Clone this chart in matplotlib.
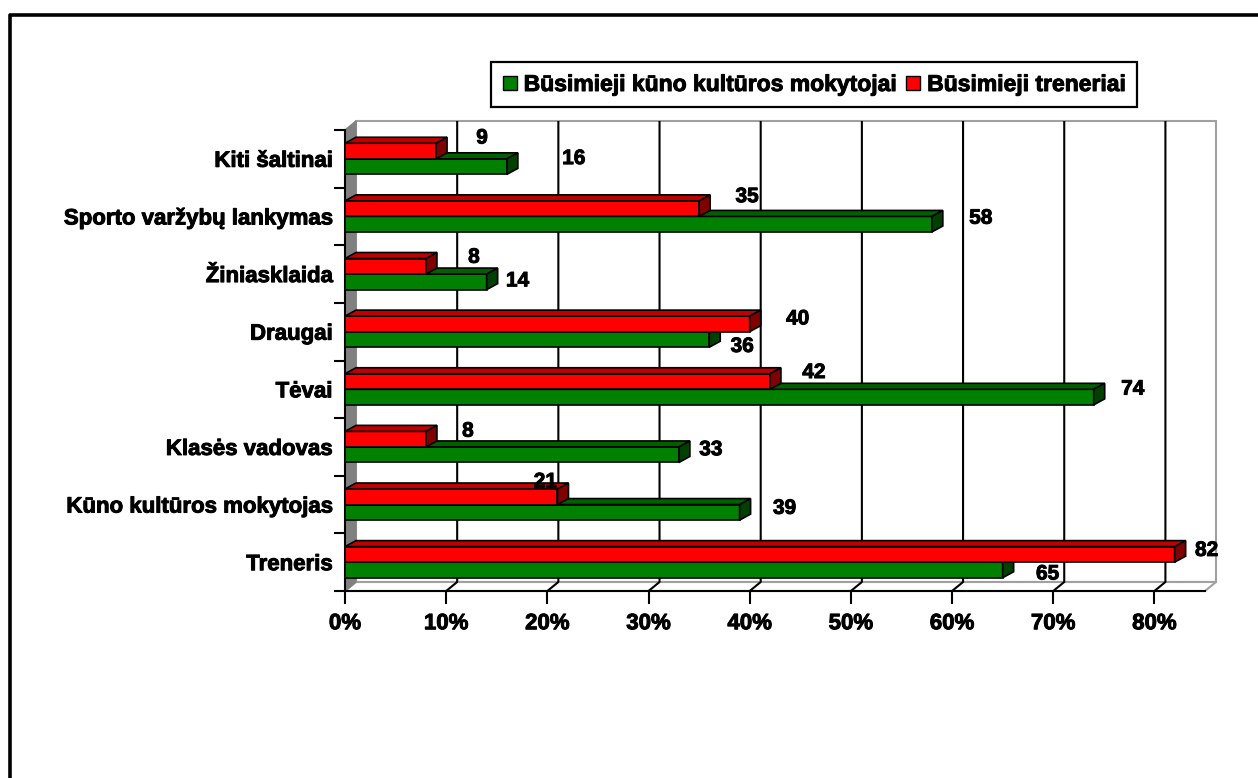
import matplotlib
matplotlib.use("Agg")
import matplotlib.pyplot as plt
from matplotlib.patches import Polygon, Rectangle, Patch
from matplotlib.lines import Line2D
import matplotlib.patheffects as pe

# ---------------- data (bottom to top) ----------------
categories = ["Treneris", "Kūno kultūros mokytojas", "Klasės vadovas", "Tėvai",
              "Draugai", "Žiniasklaida", "Sporto varžybų lankymas", "Kiti šaltinai"]
teachers = [65, 39, 33, 74, 36, 14, 58, 16]      # Būsimieji kūno kultūros mokytojai
coaches = [82, 21, 8, 42, 40, 8, 35, 9]          # Būsimieji treneriai
series_names = ["Būsimieji kūno kultūros mokytojai", "Būsimieji treneriai"]
x_ticks = [0, 10, 20, 30, 40, 50, 60, 70, 80]
x_tick_labels = ["0%", "10%", "20%", "30%", "40%", "50%", "60%", "70%", "80%"]

# label nudges (pixels, right / down) relative to bar end
teach_lab_off = [(45, 4), (45, -4), (32, -5), (39, -8), (33, 7), (31, -1), (49, -6), (67, -8)]
coach_lab_off = [(32, -4), (-12, -15), (42, -8), (44, -9), (48, -5), (48, -9), (48, -12), (46, -13)]

plt.rcParams['font.family'] = ['Liberation Sans', 'DejaVu Sans']
plt.rcParams['font.weight'] = 'bold'
HEAVY = [pe.withStroke(linewidth=0.7, foreground='black')]

W, H = 1258, 778
fig = plt.figure(figsize=(W / 100, H / 100), dpi=100)

n = len(categories)
XMAX = 85
ax = fig.add_axes([345 / W, (H - 591) / H, 860 / W, 461 / H])
ax.set_xlim(0, XMAX)
ax.set_ylim(0, n)
ax.patch.set_visible(False)

px_x = XMAX / 860.0
px_y = n / 461.0
wdx, wdy = 11 * px_x, 9 * px_y     # wall depth
bdx, bdy = 11 * px_x, 6 * px_y     # bar depth

# back wall, floor, left wall
ax.add_patch(Polygon([(wdx, wdy), (XMAX + wdx, wdy), (XMAX + wdx, n + wdy), (wdx, n + wdy)],
                     closed=True, fc='white', ec='#a0a0a0', lw=1.5, clip_on=False, zorder=0.5))
ax.add_patch(Polygon([(0, 0), (XMAX, 0), (XMAX + wdx, wdy), (wdx, wdy)],
                     closed=True, fc='white', ec='#a0a0a0', lw=1.5, clip_on=False, zorder=0.6))
ax.add_patch(Polygon([(0, 0), (wdx, wdy), (wdx, n + wdy), (0, n)],
                     closed=True, fc='#808080', ec='#808080', lw=1, clip_on=False, zorder=0.7))
for v in x_ticks[1:]:
    ax.plot([v + wdx, v + wdx, v], [n + wdy, wdy, 0], color='black', lw=1.5,
            clip_on=False, zorder=0.8, solid_capstyle='butt')


def bar3d(v, y0, h, front, top, side, z):
    ax.add_patch(Rectangle((0, y0), v, h, fc=front, ec='black', lw=1.2, zorder=z, clip_on=False))
    ax.add_patch(Polygon([(0, y0 + h), (v, y0 + h), (v + bdx, y0 + h + bdy), (bdx, y0 + h + bdy)],
                         closed=True, fc=top, ec='black', lw=1.2, zorder=z, clip_on=False))
    ax.add_patch(Polygon([(v, y0), (v + bdx, y0 + bdy), (v + bdx, y0 + h + bdy), (v, y0 + h)],
                         closed=True, fc=side, ec='black', lw=1.2, zorder=z, clip_on=False))


BH = 0.27
for k in range(n - 1, -1, -1):
    z = 3 + (n - k) * 2
    gy = k + 0.23
    ry = k + 0.50
    bar3d(teachers[k], gy, BH, '#008000', '#006000', '#004000', z)
    bar3d(coaches[k], ry, BH, '#FF0000', '#C00000', '#800000', z + 1)
    dx, dy = teach_lab_off[k]
    ax.annotate(str(teachers[k]), (teachers[k], gy + BH / 2), xytext=(dx * 0.72, -dy * 0.72),
                textcoords='offset points', ha='center', va='center', fontsize=15,
                fontweight='bold', zorder=40, annotation_clip=False, path_effects=HEAVY)
    dx, dy = coach_lab_off[k]
    ax.annotate(str(coaches[k]), (coaches[k], ry + BH / 2), xytext=(dx * 0.72, -dy * 0.72),
                textcoords='offset points', ha='center', va='center', fontsize=15,
                fontweight='bold', zorder=40, annotation_clip=False, path_effects=HEAVY)

# axes
for s in ['top', 'right']:
    ax.spines[s].set_visible(False)
for s in ['left', 'bottom']:
    ax.spines[s].set_color('black')
    ax.spines[s].set_linewidth(1.5)
    ax.spines[s].set_zorder(2)
ax.set_xticks(x_ticks)
ax.set_xticklabels(x_tick_labels)
ax.tick_params(axis='x', direction='out', length=9, width=1.5, labelsize=16, pad=7)
ax.set_yticks(range(n + 1))
ax.set_yticklabels([])
ax.tick_params(axis='y', which='major', direction='out', length=8, width=1.5)
ax.set_yticks([k + 0.5 for k in range(n)], minor=True)
ax.set_yticklabels(categories, minor=True)
ax.tick_params(axis='y', which='minor', length=0, labelsize=16, pad=9)
for t in ax.get_xticklabels() + ax.get_yticklabels(minor=True):
    t.set_fontweight('bold')
    t.set_path_effects(HEAVY)

# legend
handles = [Patch(facecolor='#008000', edgecolor='black', lw=1),
           Patch(facecolor='#FF0000', edgecolor='black', lw=1)]
leg = fig.legend(handles, series_names, loc='center', bbox_to_anchor=(814 / W, 1 - 84.5 / H),
                 ncol=2, handlelength=0.62, handleheight=0.62, handletextpad=0.3,
                 columnspacing=0.45, borderpad=0.5, fancybox=False, framealpha=1,
                 prop={'weight': 'bold', 'size': 16.5})
leg.get_frame().set_edgecolor('black')
leg.get_frame().set_linewidth(1.6)
for t in leg.get_texts():
    t.set_path_effects(HEAVY)

# outer border (top and left)
fig.add_artist(Line2D([9.8 / W, 9.8 / W, 1], [0, 1 - 14.8 / H, 1 - 14.8 / H],
                      transform=fig.transFigure, color='black', lw=2.6, solid_capstyle='butt'))

fig.savefig("out.png", dpi=100, facecolor='white')
